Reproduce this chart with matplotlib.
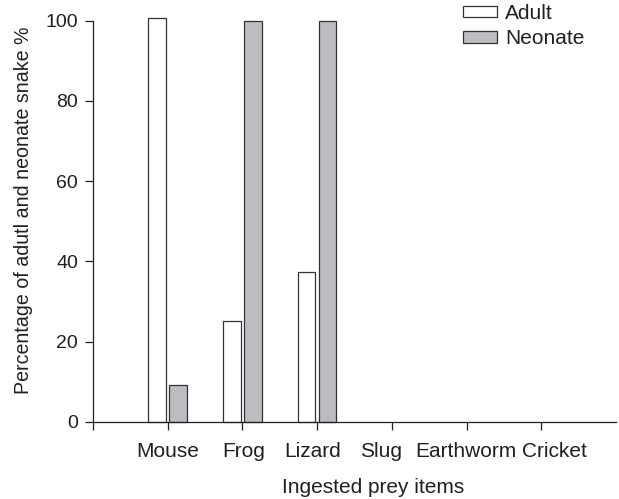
import numpy as np
import matplotlib
matplotlib.use("Agg")
import matplotlib.pyplot as plt
from matplotlib.transforms import ScaledTranslation

plt.rcParams['font.family'] = ['Liberation Sans', 'DejaVu Sans']

prey = ['Mouse', 'Frog', 'Lizard', 'Slug', 'Earthworm', 'Cricket']
adult = [100.7, 25.1, 37.4, 0, 0, 0]
neonate = [9.1, 100, 100, 0, 0, 0]

ink = '#231f20'
grey = '#bcbdc1'
fs = 15

fig = plt.figure(figsize=(6.19, 4.99), dpi=100)
ax = fig.add_axes([93 / 619, 1 - 421.7 / 499, 523 / 619, (421.7 - 14.7) / 499])

x = np.arange(1, len(prey) + 1)
w = 0.235
# no outline for empty bars, otherwise they show as a stub on the axis
lw_a = [0.9 if v > 0 else 0 for v in adult]
lw_n = [0.9 if v > 0 else 0 for v in neonate]
ax.bar(x - 0.14, adult, w, color='white', edgecolor='#333333', linewidth=lw_a,
       label='Adult', clip_on=False, zorder=1)
ax.bar(x + 0.14, neonate, w, color=grey, edgecolor='#333333', linewidth=lw_n,
       label='Neonate', clip_on=False, zorder=1)

ax.set_xlim(0, 7)
ax.set_ylim(0, 101.5)
ax.spines['top'].set_visible(False)
ax.spines['right'].set_visible(False)
ax.spines['left'].set_bounds(0, 100)
for s in ['left', 'bottom']:
    ax.spines[s].set_color(ink)
    ax.spines[s].set_linewidth(0.9)
    ax.spines[s].set_zorder(3)

ax.set_xticks(np.arange(0, 7))
ax.set_xticklabels([''] + prey)
ax.set_yticks([0, 20, 40, 60, 80, 100])
ax.tick_params(axis='both', direction='out', length=5.8, width=0.9,
               color=ink, labelcolor=ink)
ax.tick_params(axis='x', pad=8.5, labelsize=fs)
ax.tick_params(axis='y', pad=5, labelsize=14)

# labels in the original were nudged sideways so they do not collide
nudge = [0, 0, 1.3, -5, -11, -1, 12.7]
for lab, dx in zip(ax.get_xticklabels(), nudge):
    lab.set_transform(lab.get_transform() + ScaledTranslation(dx / 100, 0, fig.dpi_scale_trans))

fig.text(24 / 619, 1 - 210 / 499, 'Percentage of adutl and neonate snake %',
         rotation=90, ha='center', va='center', fontsize=14.1, color=ink)
fig.text(373 / 619, 1 - 493 / 499, 'Ingested prey items',
         ha='center', va='baseline', fontsize=fs, color=ink)

leg = ax.legend(loc='upper left', bbox_to_anchor=(462.7 / 619, 1 - 4 / 499),
                bbox_transform=fig.transFigure, frameon=False, fontsize=fs,
                borderpad=0, borderaxespad=0, handlelength=1.65,
                handleheight=0.48, handletextpad=0.4, labelspacing=0.3)
for t in leg.get_texts():
    t.set_color(ink)

fig.savefig('out.png', dpi=100)
